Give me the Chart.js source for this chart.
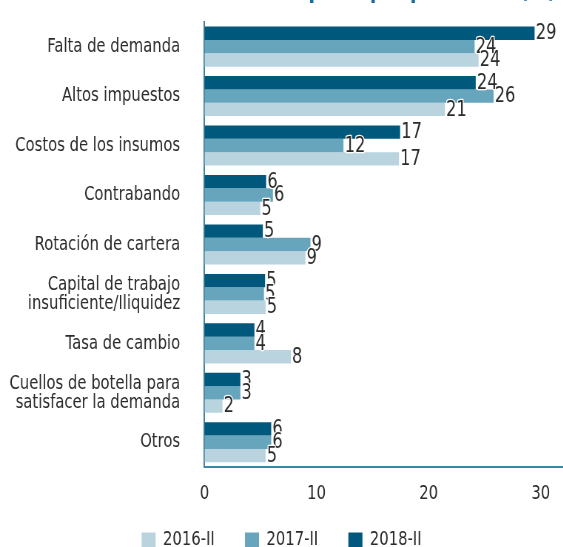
<!DOCTYPE html>
<html>
<head>
<meta charset="utf-8">
<script src="https://cdn.jsdelivr.net/npm/chart.js@4/dist/chart.umd.min.js"></script>
<style>
  html, body { margin:0; padding:0; background:#fff; }
  body { width:563px; height:547px; overflow:hidden; position:relative; }
  #wrap { position:absolute; left:0; top:-40px; width:761px; height:600px; transform:scaleX(0.74); transform-origin:0 0; }
</style>
</head>
<body>
<div id="wrap"><canvas id="c"></canvas></div>
<script>
const categories = [
  'Falta de demanda',
  'Altos impuestos',
  'Costos de los insumos',
  'Contrabando',
  'Rotación de cartera',
  ['Capital de trabajo', 'insuficiente/Iliquidez'],
  'Tasa de cambio',
  ['Cuellos de botella para', 'satisfacer la demanda'],
  'Otros'
];
const seriesNames = ['2018-II', '2017-II', '2016-II'];
const values2018 = [29.45, 24.2, 17.45, 5.5, 5.2, 5.4, 4.45, 3.2, 5.95];
const values2017 = [24.1, 25.8, 12.4, 6.1, 9.45, 5.3, 4.45, 3.2, 5.95];
const values2016 = [24.45, 21.45, 17.35, 4.97, 9.0, 5.45, 7.7, 1.6, 5.45];
const xTicks = [0, 10, 20, 30];
const titleText = 'principal problema (%)';

const FONT = '"DejaVu Sans", Verdana, sans-serif';
const AXIS = '#3d84a5';
const TEXT = '#2b2b2b';
const GAP = '\u00A0\u00A0\u00A0\u00A0\u00A0';

const valueLabels = {
  id: 'valueLabels',
  afterDatasetsDraw(chart) {
    const ctx = chart.ctx;
    ctx.save();
    ctx.font = '22px ' + FONT;
    ctx.textAlign = 'left';
    ctx.textBaseline = 'middle';
    chart.data.datasets.forEach((ds, i) => {
      const meta = chart.getDatasetMeta(i);
      if (!chart.isDatasetVisible(i)) return;
      meta.data.forEach((el, j) => {
        const t = String(Math.round(ds.data[j]));
        ctx.lineWidth = 2.5;
        ctx.strokeStyle = '#ffffff';
        ctx.lineJoin = 'round';
        ctx.strokeText(t, el.x + 1.5, el.y + 0.5);
        ctx.fillStyle = TEXT;
        ctx.fillText(t, el.x + 1.5, el.y + 0.5);
      });
    });
    ctx.restore();
  }
};

new Chart(document.getElementById('c'), {
  type: 'bar',
  data: {
    labels: categories,
    datasets: [
      { label: seriesNames[0], data: values2018, backgroundColor: '#00587d', borderWidth: 0 },
      { label: seriesNames[1], data: values2017, backgroundColor: '#67a5bd', borderWidth: 0 },
      { label: seriesNames[2], data: values2016, backgroundColor: '#b9d3df', borderWidth: 0 }
    ]
  },
  options: {
    indexAxis: 'y',
    responsive: true,
    maintainAspectRatio: false,
    animation: false,
    layout: { padding: 0 },
    datasets: { bar: { categoryPercentage: 0.81, barPercentage: 1.0 } },
    scales: {
      x: {
        min: 0, max: 32,
        grid: { display: false, drawTicks: false },
        border: { display: true, color: AXIS, width: 2 },
        ticks: {
          stepSize: 10, includeBounds: false, padding: 15, color: TEXT,
          font: { family: FONT, size: 20 },
          callback: v => xTicks.includes(v) ? String(v) : ''
        }
      },
      y: {
        grid: { display: false, drawTicks: false },
        border: { display: true, color: AXIS, width: 2 },
        ticks: { padding: 33, color: TEXT, font: { family: FONT, size: 20, lineHeight: 0.95 } },
        afterFit: s => { s.width = 276.4; }
      }
    },
    plugins: {
      title: {
        display: true, text: titleText + '\u00A0', align: 'end', color: '#1b6c98',
        font: { family: FONT, size: 26, weight: 'bold' },
        padding: { top: 15, bottom: 15.7 }
      },
      legend: {
        display: true,
        position: 'bottom',
        labels: {
          boxWidth: 19, boxHeight: 15, padding: 9, color: TEXT,
          font: { family: FONT, size: 20 },
          generateLabels: function (chart) {
            const items = Chart.defaults.plugins.legend.labels.generateLabels.call(this, chart).reverse();
            items.forEach((it, k) => { it.lineWidth = 0; if (k < items.length - 1) it.text = it.text + GAP; });
            return items;
          }
        }
      },
      tooltip: { enabled: false }
    }
  },
  plugins: [valueLabels]
});
</script>
</body>
</html>
